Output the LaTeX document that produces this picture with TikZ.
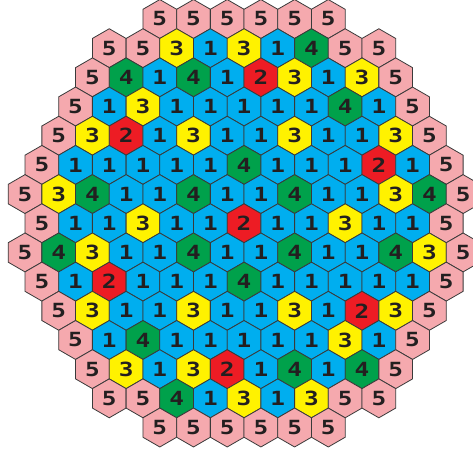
\documentclass[tikz,border=0pt]{standalone}
\usepackage{fontspec}
\newfontfamily\hexfont{DejaVu Sans Mono}[Scale=1.95, FakeStretch=1.25]
\usetikzlibrary{shapes.geometric}
\definecolor{c1}{HTML}{00AEEF}
\definecolor{c2}{HTML}{ED1C24}
\definecolor{c3}{HTML}{FFF200}
\definecolor{c4}{HTML}{00A14B}
\definecolor{c5}{HTML}{F5A9AE}
\definecolor{edge}{HTML}{3A3A3A}
\definecolor{ink}{HTML}{231F20}
\tikzset{
  hexcell/.style={regular polygon, regular polygon sides=6, shape border rotate=30,
    minimum size=38.9pt, inner sep=0pt, draw=edge, line width=0.8pt,
    text=ink, font=\hexfont\bfseries}
}
\begin{document}
\begin{tikzpicture}[x=1pt,y=-1pt]
\useasboundingbox (0,0) rectangle (473,453);
\foreach \row/\kstart/\vals in {
  1/8/{5,5,5,5,5,5},
  2/5/{5,5,3,1,3,1,4,5,5},
  3/4/{5,4,1,4,1,2,3,1,3,5},
  4/3/{5,1,3,1,1,1,1,1,4,1,5},
  5/2/{5,3,2,1,3,1,1,3,1,1,3,5},
  6/1/{5,1,1,1,1,1,4,1,1,1,2,1,5},
  7/0/{5,3,4,1,1,4,1,1,4,1,1,3,4,5},
  8/1/{5,1,1,3,1,1,2,1,1,3,1,1,5},
  9/0/{5,4,3,1,1,4,1,1,4,1,1,4,3,5},
  10/1/{5,1,2,1,1,1,4,1,1,1,1,1,5},
  11/2/{5,3,1,1,3,1,1,3,1,2,3,5},
  12/3/{5,1,4,1,1,1,1,1,3,1,5},
  13/4/{5,3,1,3,2,1,4,1,4,5},
  14/5/{5,5,4,1,3,1,3,5,5},
  15/8/{5,5,5,5,5,5}} {
  \foreach \v [count=\i from 0] in \vals {
    \pgfmathsetmacro\xx{25+(\kstart+2*\i)*16.85}
    \pgfmathsetmacro\yy{19+(\row-1)*29.18}
    \node[hexcell, fill=c\v] (h-\row-\i) at (\xx,\yy) {\v};
  }
}
\end{tikzpicture}
\end{document}
